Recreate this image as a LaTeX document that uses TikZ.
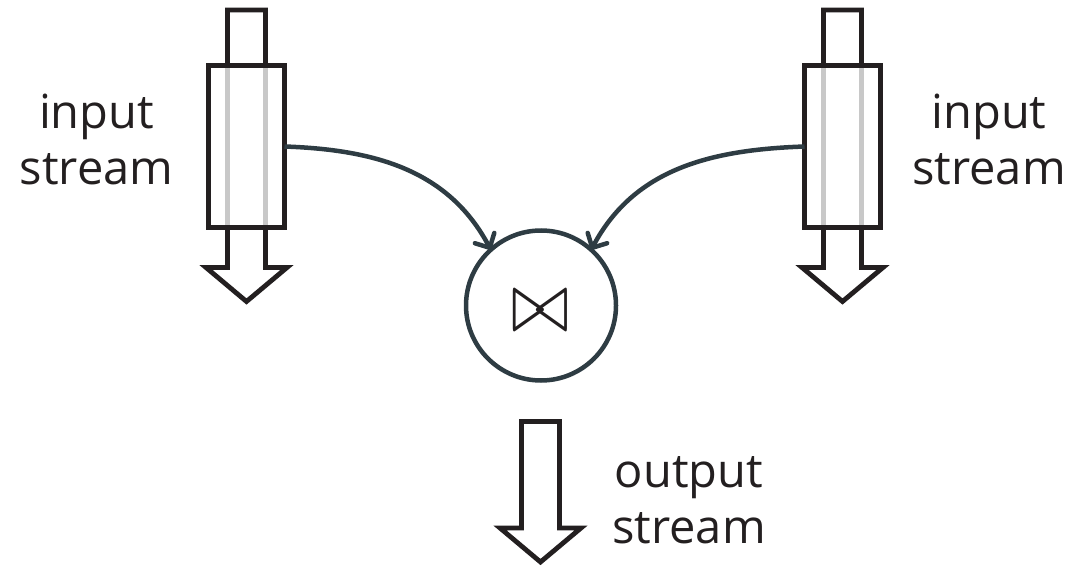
\documentclass[tikz,border=0pt]{standalone}
\usepackage{fontspec}
\setmainfont{Open Sans}
\usepackage{graphicx}
\usetikzlibrary{arrows.meta}

\definecolor{ink}{HTML}{231F20}
\definecolor{slate}{HTML}{2E3C43}
\definecolor{rail}{HTML}{C8C8C8}

\tikzset{
  tube/.style={draw=ink, line width=4.8pt, line join=miter, fill=white},
  window/.style={rectangle, draw=ink, fill=white, line width=4.8pt,
    minimum width=76pt, minimum height=162pt, inner sep=0pt, outer sep=0pt},
  railline/.style={draw=rail, line width=5pt},
  joinop/.style={circle, draw=slate, line width=4.5pt, minimum size=150pt,
    inner sep=0pt, outer sep=0pt},
  feed/.style={draw=slate, line width=4.5pt,
    -{Straight Barb[length=11pt,width=22pt,round]}},
  label/.style={font=\fontsize{47}{56}\selectfont, text=ink, align=center,
    inner sep=0pt}
}

% one input stream: a pipe ending in a hollow arrow, with a window box on it
\newcommand{\streampipe}[2]{%
  \draw[tube] (#1-19,-10) -- (#1+19,-10) -- (#1+19,-267.5) -- (#1+40.5,-267.5)
    -- (#1,-301.5) -- (#1-40.5,-267.5) -- (#1-19,-267.5) -- cycle;
  \node[window] (#2) at (#1,-146.5) {};
  \draw[railline] (#1-19,-67.75) -- (#1-19,-225.25);
  \draw[railline] (#1+19,-67.75) -- (#1+19,-225.25);
  \draw[draw=ink, line width=4.8pt] (#2.south west) rectangle (#2.north east);
}

\begin{document}
\begin{tikzpicture}[x=1pt,y=1pt]
  \useasboundingbox (0,0) rectangle (1071,-567);

  \streampipe{246.5}{inL}
  \streampipe{842.5}{inR}

  % output stream arrow
  \draw[tube] (521.5,-421.5) -- (559.5,-421.5) -- (559.5,-528) -- (581,-528)
    -- (540.5,-562) -- (500,-528) -- (521.5,-528) -- cycle;

  % join operator
  \node[joinop] (join) at (541,-305.5) {};
  \node[inner sep=0pt, text=ink] (sym) at (540.5,-311)
    {\resizebox*{58pt}{40pt}{$\bowtie$}};

  % incoming streams feeding the join
  \draw[feed] (inL.east) to[out=-2, in=118] (join.132);
  \draw[feed] (inR.west) to[out=182, in=62] (join.48);

  % labels
  \node[label] (labL) at (96.5,-139) {input\\stream};
  \node[label] (labR) at (989,-139) {input\\stream};
  \node[label] (labO) at (689,-500) {output\\stream};
\end{tikzpicture}
\end{document}
